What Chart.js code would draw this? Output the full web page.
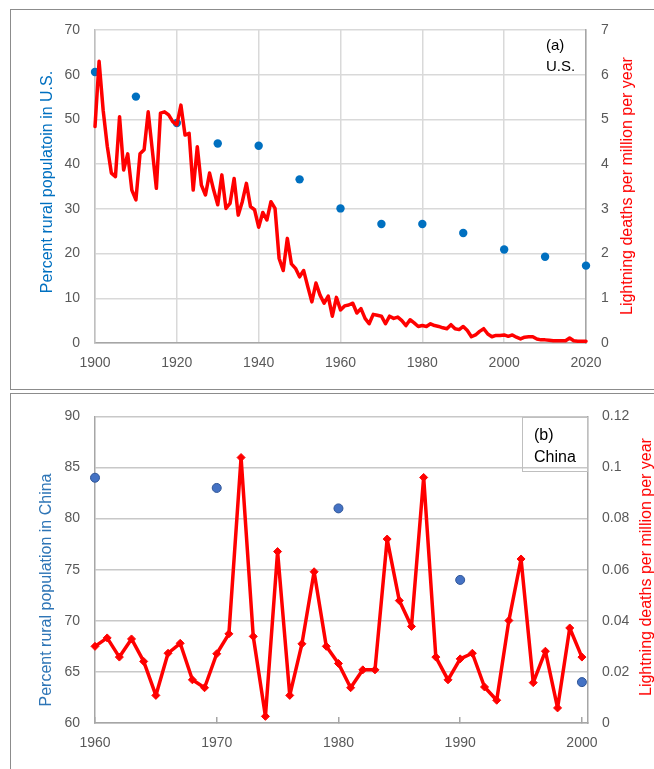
<!DOCTYPE html>
<html><head><meta charset="utf-8">
<script src="https://cdn.jsdelivr.net/npm/chart.js@4/dist/chart.umd.min.js"></script>
<style>
html,body{margin:0;padding:0;background:#fff;width:654px;height:769px;overflow:hidden;position:relative;font-family:"Liberation Sans",Arial,sans-serif;}
.panel{position:absolute;border:1px solid #8c8c8c;box-sizing:border-box;}
#p1{left:10px;top:9px;width:660px;height:381px;}
#p2{left:10px;top:393px;width:660px;height:400px;}
canvas{position:absolute;}
#c1{left:0;top:0;}
#c2{left:0;top:393px;}
.t{position:absolute;white-space:nowrap;transform:translate(-50%,-50%) rotate(-90deg);font-size:16px;line-height:1;}
.lbl{position:absolute;color:#000;white-space:nowrap;}
#boxb{position:absolute;left:522px;top:417px;width:66px;height:55px;border:1px solid #bfbfbf;box-sizing:border-box;}
</style></head>
<body>
<div class="panel" id="p1"></div>
<div class="panel" id="p2"></div>
<canvas id="c1" width="654" height="389"></canvas>
<canvas id="c2" width="654" height="376"></canvas>
<div class="t" style="left:46.7px;top:182px;color:#0070C0;">Percent rural populatoin in U.S.</div>
<div class="t" style="left:627px;top:186px;color:#FF0000;">Lightning deaths per million per year</div>
<div class="t" style="left:46px;top:590px;color:#2E75B6;">Percent rural population in China</div>
<div class="t" style="left:646px;top:567px;color:#FF0000;">Lightning deaths per million per year</div>
<div class="lbl" style="left:546px;top:34.3px;font-size:15px;line-height:21px;">(a)<br>U.S.</div>
<div id="boxb"></div>
<div class="lbl" style="left:534px;top:423.5px;font-size:16px;line-height:22px;">(b)<br>China</div>
<script>
// ---- U.S. panel data ----
const usDeathYears = Array.from({length: 121}, (_, i) => 1900 + i);
const usDeaths = [
  4.84, 6.30, 5.20, 4.40, 3.80, 3.72, 5.06, 3.87, 4.23, 3.42,
  3.20, 4.23, 4.32, 5.17, 4.32, 3.46, 5.14, 5.17, 5.10, 4.95,
  4.88, 5.32, 4.65, 4.69, 3.42, 4.39, 3.53, 3.31, 3.80, 3.42,
  3.09, 3.76, 3.01, 3.12, 3.68, 2.86, 3.16, 3.57, 3.05, 2.98,
  2.59, 2.92, 2.75, 3.16, 3.01, 1.89, 1.62, 2.34, 1.77, 1.67,
  1.48, 1.62, 1.26, 0.92, 1.34, 1.07, 0.89, 1.05, 0.60, 1.02,
  0.74, 0.83, 0.85, 0.89, 0.67, 0.77, 0.55, 0.43, 0.64, 0.62,
  0.60, 0.43, 0.60, 0.55, 0.58, 0.50, 0.39, 0.52, 0.45, 0.37,
  0.39, 0.37, 0.43, 0.39, 0.37, 0.34, 0.32, 0.41, 0.32, 0.30,
  0.37, 0.28, 0.14, 0.18, 0.26, 0.32, 0.20, 0.14, 0.17, 0.17,
  0.18, 0.15, 0.18, 0.13, 0.09, 0.13, 0.14, 0.14, 0.09, 0.07,
  0.07, 0.06, 0.05, 0.05, 0.05, 0.05, 0.11, 0.05, 0.04, 0.04,
  0.04
];
const usRuralYears = [1900, 1910, 1920, 1930, 1940, 1950, 1960, 1970, 1980, 1990, 2000, 2010, 2020];
const usRural = [60.6, 55.1, 49.2, 44.6, 44.1, 36.6, 30.1, 26.6, 26.6, 24.6, 20.9, 19.3, 17.3];
const usXTicks = [1900, 1920, 1940, 1960, 1980, 2000, 2020];
const usLeftTicks = [0, 10, 20, 30, 40, 50, 60, 70];
const usRightTicks = [0, 1, 2, 3, 4, 5, 6, 7];

// ---- China panel data ----
const cnDeathYears = Array.from({length: 41}, (_, i) => 1960 + i);
const cnDeaths = [
  0.0300, 0.0333, 0.0258, 0.0329, 0.0241, 0.0108, 0.0273, 0.0312, 0.0169, 0.0138,
  0.0271, 0.0349, 0.1039, 0.0339, 0.0026, 0.0671, 0.0108, 0.0310, 0.0592, 0.0300,
  0.0233, 0.0138, 0.0208, 0.0208, 0.0720, 0.0479, 0.0378, 0.0961, 0.0258, 0.0169,
  0.0251, 0.0273, 0.0141, 0.0089, 0.0401, 0.0642, 0.0158, 0.0281, 0.0059, 0.0372,
  0.0258
];
const cnRuralYears = [1960, 1970, 1980, 1990, 2000];
const cnRural = [84, 83, 81, 74, 64];
const cnXTicks = [1960, 1970, 1980, 1990, 2000];
const cnLeftTicks = [60, 65, 70, 75, 80, 85, 90];
const cnRightTicks = [0, 0.02, 0.04, 0.06, 0.08, 0.1, 0.12];

Chart.defaults.font.family = '"Liberation Sans", Arial, sans-serif';
Chart.defaults.animation = false;

const pts = (xs, ys) => xs.map((x, i) => ({x: x, y: ys[i]}));
const setTicks = arr => (s => { s.ticks = arr.map(v => ({value: v})); });
const tickFont = {size: 14};
const tickColor = '#595959';

new Chart(document.getElementById('c1'), {
  type: 'scatter',
  data: {
    datasets: [
      {
        label: 'Lightning deaths per million per year',
        data: pts(usDeathYears, usDeaths),
        yAxisID: 'y1', showLine: true, borderColor: '#FF0000', borderWidth: 3.5,
        borderJoinStyle: 'round', borderCapStyle: 'round',
        pointRadius: 0, tension: 0, fill: false, clip: false
      },
      {
        label: 'Percent rural population in U.S.',
        data: pts(usRuralYears, usRural),
        yAxisID: 'y', showLine: false, pointRadius: 4.2, clip: false,
        backgroundColor: '#0070C0', borderColor: '#0070C0', borderWidth: 0
      }
    ]
  },
  options: {
    responsive: false,
    layout: {padding: {top: 30, left: 0, right: 0, bottom: 0}},
    plugins: {legend: {display: false}, tooltip: {enabled: false}},
    scales: {
      x: {
        type: 'linear', min: 1900, max: 2020,
        afterBuildTicks: setTicks(usXTicks),
        afterFit: s => { s.height = 46; },
        grid: {color: '#d9d9d9', lineWidth: 1.5, drawTicks: false},
        border: {color: '#a6a6a6', width: 1.5},
        ticks: {padding: 12, color: tickColor, font: tickFont, callback: v => String(v), maxRotation: 0}
      },
      y: {
        position: 'left', min: 0, max: 70,
        afterBuildTicks: setTicks(usLeftTicks),
        afterFit: s => { s.width = 95; },
        grid: {color: '#d9d9d9', lineWidth: 1.5, drawTicks: false},
        border: {color: '#bfbfbf', width: 1.5},
        ticks: {padding: 15, color: tickColor, font: tickFont, callback: v => String(v)}
      },
      y1: {
        position: 'right', min: 0, max: 7,
        afterBuildTicks: setTicks(usRightTicks),
        afterFit: s => { s.width = 68; },
        grid: {drawOnChartArea: false, drawTicks: false},
        border: {color: '#a6a6a6', width: 1.5},
        ticks: {padding: 15, color: tickColor, font: tickFont, callback: v => String(v)}
      }
    }
  }
});

new Chart(document.getElementById('c2'), {
  type: 'scatter',
  data: {
    datasets: [
      {
        label: 'Lightning deaths per million per year',
        data: pts(cnDeathYears, cnDeaths),
        yAxisID: 'y1', showLine: true, borderColor: '#FF0000', borderWidth: 3.5,
        borderJoinStyle: 'round', borderCapStyle: 'round',
        pointStyle: 'rectRot', pointRadius: 4, pointBackgroundColor: '#FF0000',
        pointBorderColor: '#FF0000', pointBorderWidth: 1, tension: 0, fill: false, clip: false
      },
      {
        label: 'Percent rural population in China',
        data: pts(cnRuralYears, cnRural),
        yAxisID: 'y', showLine: false, pointRadius: 4.5, clip: false,
        backgroundColor: '#4472C4', borderColor: '#2F5597', borderWidth: 1
      }
    ]
  },
  options: {
    responsive: false,
    layout: {padding: {top: 22.5, left: 0, right: 0, bottom: 0}},
    plugins: {legend: {display: false}, tooltip: {enabled: false}},
    scales: {
      x: {
        type: 'linear', min: 1960, max: 2000.5,
        afterBuildTicks: setTicks(cnXTicks),
        afterFit: s => { s.height = 46; },
        grid: {drawOnChartArea: false, drawTicks: true, tickLength: -6, color: '#a6a6a6', lineWidth: 1.5},
        border: {color: '#a6a6a6', width: 1.5},
        ticks: {padding: 18, color: tickColor, font: tickFont, callback: v => String(v), maxRotation: 0}
      },
      y: {
        position: 'left', min: 60, max: 90,
        afterBuildTicks: setTicks(cnLeftTicks),
        afterFit: s => { s.width = 95; },
        grid: {color: '#c8c8c8', lineWidth: 1.5, drawTicks: false},
        border: {color: '#a6a6a6', width: 1.5},
        ticks: {padding: 15, color: tickColor, font: tickFont, callback: v => String(v)}
      },
      y1: {
        position: 'right', min: 0, max: 0.12,
        afterBuildTicks: setTicks(cnRightTicks),
        afterFit: s => { s.width = 66; },
        grid: {drawOnChartArea: false, drawTicks: false},
        border: {color: '#a6a6a6', width: 1.5},
        ticks: {padding: 14, color: tickColor, font: tickFont, callback: v => String(v)}
      }
    }
  }
});
</script>
</body></html>
